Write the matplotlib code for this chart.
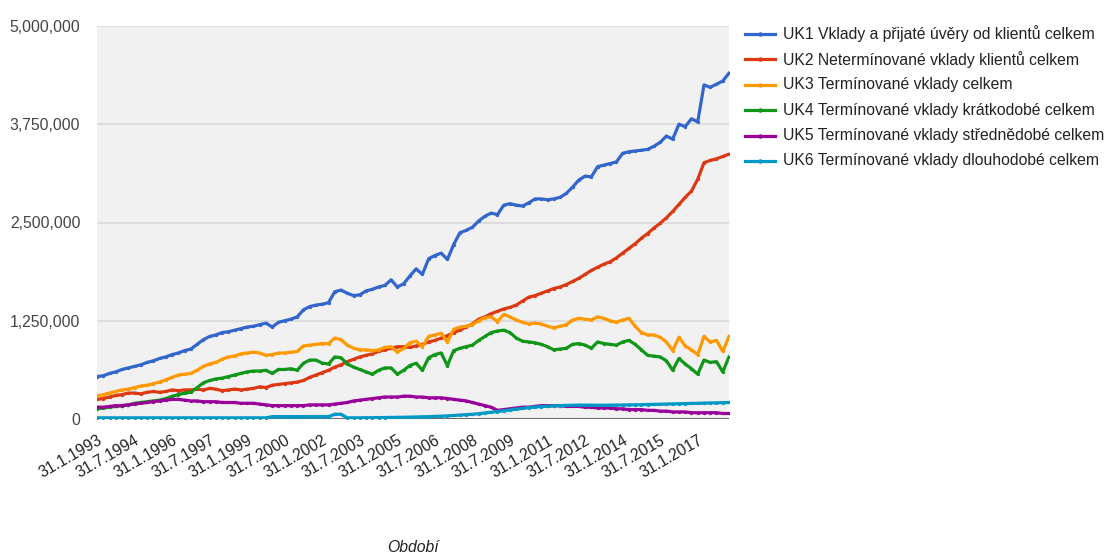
import matplotlib
matplotlib.use("Agg")
import matplotlib.pyplot as plt
from matplotlib.lines import Line2D
from matplotlib.ticker import FuncFormatter
import numpy as np

# ---- data (quarterly samples, values in thousands) ----
months = list(range(0, 304, 3))  # month index from 31.1.1993

uk1 = [540, 550, 580, 600, 630, 650, 670, 690, 720, 740, 770, 790, 820, 840, 870, 890,
       950, 1010, 1050, 1070, 1100, 1110, 1130, 1150, 1170, 1180, 1200, 1220, 1170, 1230,
       1250, 1270, 1300, 1390, 1430, 1450, 1460, 1480, 1620, 1640, 1600, 1570, 1580, 1630,
       1650, 1680, 1700, 1770, 1680, 1720, 1820, 1910, 1840, 2040, 2080, 2110, 2030, 2220,
       2370, 2400, 2440, 2520, 2580, 2620, 2600, 2720, 2740, 2720, 2710, 2750, 2800, 2800,
       2790, 2800, 2820, 2870, 2950, 3040, 3090, 3080, 3210, 3230, 3250, 3270, 3380, 3400,
       3410, 3420, 3430, 3470, 3520, 3600, 3560, 3750, 3720, 3820, 3780, 4250, 4220, 4260,
       4300, 4400]

uk2 = [250, 260, 280, 300, 310, 330, 330, 320, 340, 350, 340, 350, 370, 360, 370, 370,
       380, 370, 390, 380, 360, 370, 380, 370, 380, 390, 410, 400, 430, 440, 450, 460,
       470, 490, 530, 560, 590, 620, 660, 690, 730, 760, 790, 810, 830, 860, 880, 900,
       920, 920, 910, 930, 950, 980, 1000, 1030, 1060, 1100, 1130, 1170, 1210, 1270, 1300,
       1340, 1370, 1400, 1420, 1450, 1500, 1550, 1570, 1600, 1630, 1660, 1680, 1710, 1750,
       1790, 1840, 1890, 1930, 1970, 2000, 2050, 2110, 2170, 2230, 2300, 2360, 2430, 2490,
       2560, 2640, 2730, 2820, 2900, 3050, 3260, 3290, 3310, 3340, 3370]

uk3 = [290, 310, 330, 350, 370, 380, 400, 420, 430, 450, 470, 500, 530, 560, 570, 580,
       620, 670, 700, 720, 760, 790, 800, 830, 840, 850, 840, 810, 820, 840, 840, 850,
       860, 930, 940, 950, 960, 960, 1030, 1010, 940, 900, 880, 880, 870, 880, 910, 920,
       850, 900, 970, 990, 920, 1050, 1070, 1090, 980, 1140, 1170, 1180, 1200, 1250, 1290,
       1300, 1240, 1330, 1300, 1260, 1230, 1210, 1220, 1210, 1180, 1160, 1180, 1200, 1260,
       1280, 1270, 1260, 1300, 1280, 1250, 1230, 1260, 1280, 1180, 1100, 1070, 1070, 1040,
       980, 870, 1040, 930, 880, 820, 1050, 980, 1000, 860, 1050]

uk4 = [130, 140, 150, 160, 170, 180, 200, 210, 220, 230, 240, 260, 290, 310, 330, 340,
       400, 460, 490, 510, 520, 540, 560, 580, 600, 610, 610, 620, 580, 630, 630, 640,
       620, 710, 750, 750, 710, 700, 790, 780, 700, 660, 630, 600, 570, 620, 650, 650,
       570, 620, 680, 710, 620, 780, 820, 840, 680, 870, 900, 920, 940, 1000, 1050, 1100,
       1120, 1130, 1100, 1030, 990, 980, 970, 950, 920, 880, 890, 900, 950, 960, 940, 900,
       980, 960, 950, 940, 980, 1000, 950, 880, 810, 800, 790, 740, 620, 770, 700, 640,
       570, 750, 720, 730, 600, 790]

uk5 = [150, 150, 160, 170, 170, 180, 190, 200, 210, 220, 230, 240, 250, 250, 240, 230,
       230, 220, 220, 220, 210, 210, 210, 200, 200, 200, 190, 180, 170, 170, 170, 170,
       170, 170, 180, 180, 180, 180, 190, 200, 210, 230, 240, 250, 260, 270, 280, 280,
       280, 290, 290, 280, 280, 270, 270, 270, 260, 250, 240, 230, 210, 190, 170, 150,
       110, 120, 130, 140, 150, 150, 160, 170, 170, 170, 170, 160, 160, 160, 150, 150,
       140, 140, 140, 130, 130, 120, 120, 120, 110, 110, 100, 100, 90, 90, 90, 80, 80,
       80, 80, 80, 70, 70]

uk6 = [15, 15, 15, 15, 15, 15, 15, 15, 15, 15, 15, 15, 15, 15, 15, 15, 15, 15, 15, 15,
       15, 15, 15, 15, 15, 15, 15, 15, 30, 30, 30, 30, 30, 30, 30, 30, 30, 30, 60, 60,
       15, 15, 15, 16, 17, 18, 19, 20, 21, 22, 24, 26, 28, 30, 33, 36, 40, 45, 50, 55,
       60, 68, 77, 86, 95, 105, 115, 125, 135, 145, 152, 158, 163, 167, 170, 173, 175,
       177, 177, 176, 175, 175, 176, 177, 178, 180, 181, 182, 184, 186, 188, 190, 192,
       194, 196, 198, 200, 202, 204, 206, 208, 210]

series_names = [
    "UK1 Vklady a přijaté úvěry od klientů celkem",
    "UK2 Netermínované vklady klientů celkem",
    "UK3 Termínované vklady celkem",
    "UK4 Termínované vklady krátkodobé celkem",
    "UK5 Termínované vklady střednědobé celkem",
    "UK6 Termínované vklady dlouhodobé celkem",
]
series_values = [uk1, uk2, uk3, uk4, uk5, uk6]
colors = ["#3366cc", "#dc3912", "#ff9900", "#109618", "#990099", "#0099c6"]

tick_months = list(range(0, 289, 18))
tick_labels = ["31.1.1993", "31.7.1994", "31.1.1996", "31.7.1997", "31.1.1999",
               "31.7.2000", "31.1.2002", "31.7.2003", "31.1.2005", "31.7.2006",
               "31.1.2008", "31.7.2009", "31.1.2011", "31.7.2012", "31.1.2014",
               "31.7.2015", "31.1.2017"]
y_ticks = [0, 1250000, 2500000, 3750000, 5000000]
x_title = "Období"

# ---- figure ----
plt.rcParams['font.family'] = ['Liberation Sans', 'DejaVu Sans']
W, H = 1105, 554
fig = plt.figure(figsize=(W / 100, H / 100), dpi=100)
L, R, T, B = 97, 729, 26, 419
ax = fig.add_axes([L / W, (H - B) / H, (R - L) / W, (B - T) / H])
ax.set_facecolor("#f1f1f1")

FS = 11.3
for name, vals, c in zip(series_names, series_values, colors):
    ax.plot(months, np.array(vals) * 1000, color=c, lw=2.3, marker="o", ms=2.4,
            markeredgewidth=0, solid_joinstyle="round", zorder=3)

ax.axhline(0, color="#555555", lw=1.2, zorder=2)
ax.set_xlim(0, 303)
ax.set_ylim(0, 5000000)
ax.set_yticks(y_ticks)
ax.yaxis.set_major_formatter(FuncFormatter(lambda v, p: f"{v:,.0f}"))
ax.grid(axis="y", color="#d9d9d9", lw=1.2, zorder=0)
ax.set_axisbelow(True)
for s in ax.spines.values():
    s.set_visible(False)
ax.tick_params(axis="y", length=0, pad=12, labelsize=FS, labelcolor="#444444")
ax.set_xticks(tick_months)
ax.set_xticklabels(tick_labels, rotation=30, ha="right", rotation_mode="anchor")
ax.tick_params(axis="x", length=0, pad=10, labelsize=FS, labelcolor="#222222")

fig.text((L + R) / 2 / W, 1 - 547 / H, x_title, ha="center", va="center",
         fontsize=FS, style="italic", color="#222222")

# legend
y0, dy = 34, 25.4
for i, (name, c) in enumerate(zip(series_names, colors)):
    yy = 1 - (y0 + i * dy) / H
    fig.add_artist(Line2D([745 / W, 775 / W], [yy, yy], color=c, lw=2.3,
                          transform=fig.transFigure))
    fig.add_artist(Line2D([760 / W], [yy], color=c, marker="o", ms=3.2,
                          markeredgewidth=0, transform=fig.transFigure))
    fig.text(783 / W, yy, name, ha="left", va="center", fontsize=FS, color="#222222")

fig.savefig("out.png", dpi=100)
